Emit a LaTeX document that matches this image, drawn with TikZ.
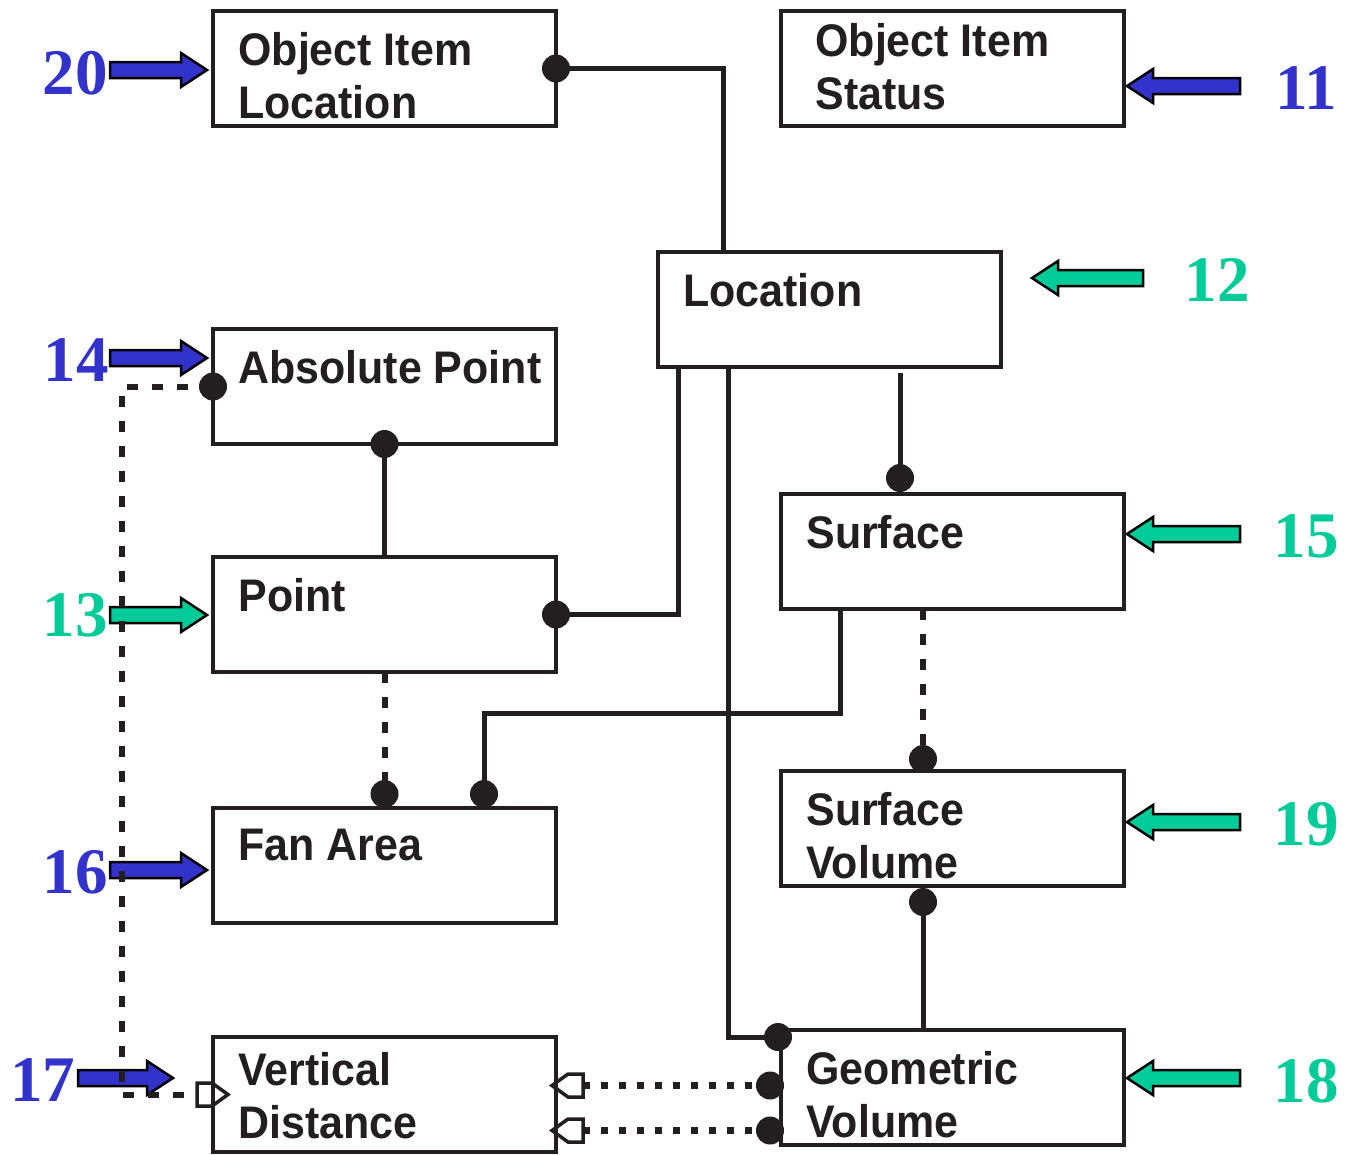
\documentclass[tikz,border=0pt]{standalone}
\usepackage{fontspec}
\usepackage{tikz}
\usetikzlibrary{calc}

\newfontfamily\boxfont{Liberation Sans}[FakeStretch=0.94]
\newfontfamily\numfont{Liberation Serif}
\definecolor{numblue}{HTML}{3333CC}
\definecolor{numgreen}{HTML}{00CC99}
\definecolor{linecol}{HTML}{231F20}

\newcommand{\blockarrow}[3]{% fill colour, tail, tip
  \draw[blockline, fill=#1] ($(#2)+(0,0.16)$) -- ($(#3)!0.52cm!(#2)+(0,0.16)$)
    -- ($(#3)!0.52cm!(#2)+(0,0.34)$) -- (#3)
    -- ($(#3)!0.52cm!(#2)+(0,-0.34)$) -- ($(#3)!0.52cm!(#2)+(0,-0.16)$)
    -- ($(#2)+(0,-0.16)$) -- cycle;}

\begin{document}
\begin{tikzpicture}[
    box/.style={draw=linecol, line width=0.09cm, minimum width=6.86cm,
      minimum height=2.3cm, inner sep=0pt, outer sep=0pt, anchor=north west},
    boxtext/.style={anchor=north west, inner sep=0pt, align=left, text=linecol,
      font=\boxfont\bfseries\fontsize{26}{30}\selectfont},
    num/.style={inner sep=0pt, font=\numfont\bfseries\fontsize{37}{37}\selectfont},
    conn/.style={draw=linecol, line width=0.1cm},
    dotline/.style={draw=linecol, line width=0.12cm, dash pattern=on 0.22cm off 0.28cm},
    shortdots/.style={draw=linecol, line width=0.14cm, dash pattern=on 0.15cm off 0.21cm},
    dot/.style={circle, fill=linecol, inner sep=0pt, minimum size=0.56cm},
    blockline/.style={draw=black, line width=0.05cm, line join=miter},
    openend/.pic={\draw[draw=linecol, line width=0.07cm] (0,0) -- (-0.32,0.23)
      -- (-0.62,0.23) -- (-0.62,-0.23) -- (-0.32,-0.23) -- cycle;}
  ]
    \useasboundingbox (0,0) rectangle (27.1,-23.08);

    % the ten entity boxes, text set at the top left corner
    \foreach \name/\x/\y/\dx/\dy/\txt in {
        oil/4.26/-0.22/0.5/0.42/{Object Item\\Location},
        ois/15.62/-0.22/0.68/0.24/{Object Item\\Status},
        loc/13.16/-5.04/0.5/0.42/{Location},
        abs/4.26/-6.58/0.5/0.42/{Absolute Point},
        pt/4.26/-11.14/0.5/0.42/{Point},
        surf/15.62/-9.88/0.5/0.42/{Surface},
        fan/4.26/-16.16/0.5/0.42/{Fan Area},
        sv/15.62/-15.42/0.5/0.42/{Surface\\Volume},
        vd/4.26/-20.74/0.5/0.3/{Vertical\\Distance},
        gv/15.62/-20.6/0.5/0.42/{Geometric\\Volume}}{
      \node[box] (\name) at (\x,\y) {};
      \node[boxtext] (\name-t) at ($(\name.north west)+(\dx,-\dy)$) {\txt};
    }

    % numbers and their block arrows
    \foreach \lab/\x/\y/\col in {20/1.5/-1.46/numblue, 14/1.52/-7.2/numblue,
        13/1.5/-12.3/numgreen, 16/1.5/-17.44/numblue, 17/0.86/-21.6/numblue,
        11/26.12/-1.76/numblue, 12/24.34/-5.6/numgreen, 15/26.12/-10.72/numgreen,
        19/26.12/-16.48/numgreen, 18/26.12/-21.62/numgreen}
      \node[num, text=\col] (n\lab) at (\x,\y) {\lab};

    \blockarrow{numblue}{2.2,-1.4}{4.14,-1.4}
    \blockarrow{numblue}{2.2,-7.16}{4.14,-7.16}
    \blockarrow{numgreen}{2.2,-12.3}{4.14,-12.3}
    \blockarrow{numblue}{2.2,-17.4}{4.14,-17.4}
    \blockarrow{numblue}{1.56,-21.56}{3.46,-21.56}
    \blockarrow{numblue}{24.8,-1.72}{22.54,-1.72}
    \blockarrow{numgreen}{22.86,-5.56}{20.64,-5.56}
    \blockarrow{numgreen}{24.8,-10.68}{22.54,-10.68}
    \blockarrow{numgreen}{24.8,-16.44}{22.54,-16.44}
    \blockarrow{numgreen}{24.8,-21.56}{22.54,-21.56}

    % solid relations
    \draw[conn] (oil.east) -| ($(loc.north west)+(1.3,0)$);
    \node[dot] at (oil.east) {};
    \draw[conn] ($(loc.south west)+(0.4,0)$) |- (pt.east);
    \node[dot] at (pt.east) {};
    \coordinate (GvCorner) at ($(gv.north west)+(-0.06,-0.14)$);
    \draw[conn] ($(loc.south west)+(1.4,0)$) |- (GvCorner);
    \node[dot] at (GvCorner) {};
    \coordinate (SurfTop) at ($(surf.north west)+(2.38,0.32)$);
    \draw[conn] ($(loc.south west)+(4.84,-0.12)$) -- (SurfTop);
    \node[dot] at (SurfTop) {};
    \draw[conn] (abs.south) -- (pt.north);
    \node[dot] at (abs.south) {};
    \coordinate (FanRight) at ($(fan.north west)+(5.42,0.28)$);
    \draw[conn] ($(surf.south west)+(1.18,0)$) |- ($(FanRight)+(0,1.62)$) -- (FanRight);
    \node[dot] at (FanRight) {};
    \coordinate (SvBottom) at ($(sv.south west)+(2.84,-0.32)$);
    \draw[conn] (SvBottom) -- (SvBottom |- gv.north);
    \node[dot] at (SvBottom) {};

    % dotted relations
    \coordinate (FanLeft) at ($(fan.north)+(0,0.28)$);
    \draw[dotline] (pt.south) -- (FanLeft);
    \node[dot] at (FanLeft) {};
    \coordinate (SvTop) at ($(sv.north west)+(2.84,0.24)$);
    \draw[dotline] ($(surf.south west)+(2.84,0)$) -- (SvTop);
    \node[dot] at (SvTop) {};
    \draw[dotline] (abs.west) -- ++(-1.82,0) |- ($(vd.west)+(-0.32,0)$);
    \pic at ($(vd.west)+(0.3,0)$) {openend};
    \node[dot] at (abs.west) {};
    \coordinate (GvA) at ($(gv.west)+(-0.22,0.04)$);
    \coordinate (GvB) at ($(gv.west)+(-0.22,-0.86)$);
    \foreach \p in {GvA, GvB}{% two references to Vertical Distance
      \draw[shortdots] (\p) -- ($(\p -| vd.east)+(0.54,0)$);
      \pic[rotate=180] at ($(\p -| vd.east)+(-0.08,0)$) {openend};
      \node[dot] at (\p) {};
    }
\end{tikzpicture}
\end{document}
